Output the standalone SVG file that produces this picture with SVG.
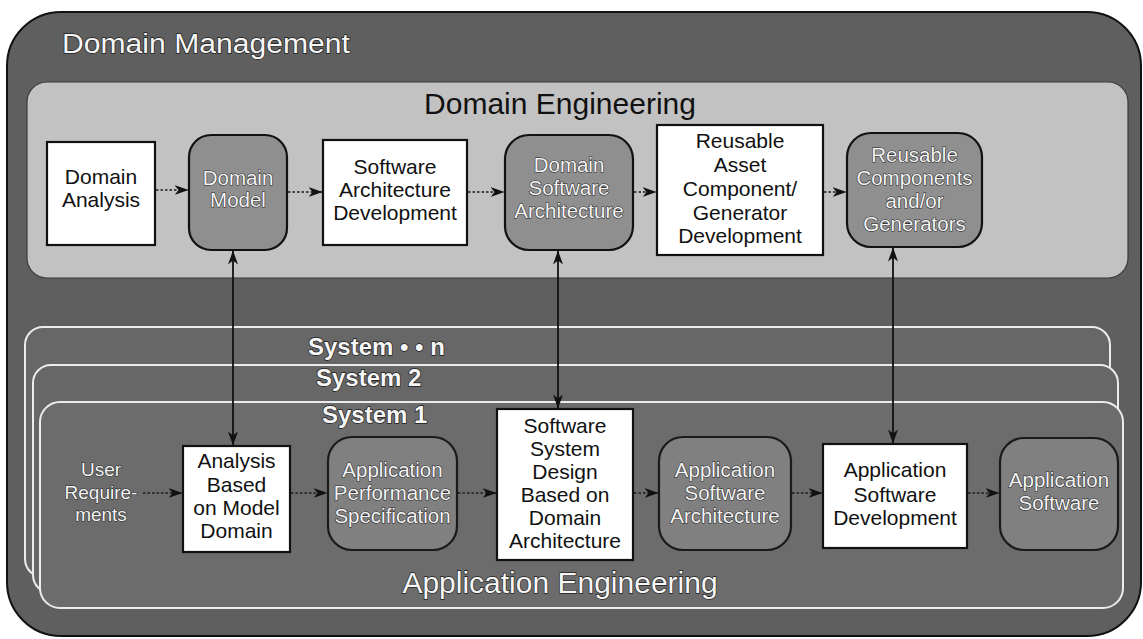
<svg xmlns="http://www.w3.org/2000/svg" width="1143" height="639" viewBox="0 0 1143 639">
  <defs>
    <marker id="arrow" markerUnits="userSpaceOnUse" viewBox="0 0 14 10" refX="13.5" refY="5" markerWidth="14" markerHeight="10" orient="auto-start-reverse">
      <path d="M0,0 L14,5 L0,10 L4,5 z" fill="#111"/>
    </marker>
    <style>
      .frame { fill: #5f5f5f; stroke: #111; stroke-width: 2; }
      .de-panel { fill: #c2c2c2; stroke: #3a3a3a; stroke-width: 1.2; }
      .sys { fill: #676767; stroke: #ececec; stroke-width: 2; }
      .box { fill: #ffffff; stroke: #111; stroke-width: 2.2; }
      .prod-de { fill: #8f8f8f; stroke: #111; stroke-width: 2.2; }
      .prod-ae { fill: #808080; stroke: #1a1a1a; stroke-width: 2.2; }
      text { font-family: "Liberation Sans", Arial, sans-serif; text-anchor: middle; }
      .dark { fill: #111; font-size: 21px; }
      .light { fill: #f4f4f4; stroke: #262626; stroke-width: 1.1; paint-order: stroke; font-size: 20.5px; }
      .title-light { fill: #f6f6f6; stroke: #1e1e1e; stroke-width: 1.3; paint-order: stroke; font-size: 30px; }
      .sys-label { fill: #f6f6f6; stroke: #1a1a1a; stroke-width: 1.4; paint-order: stroke; font-size: 24px; font-weight: bold; text-anchor: start; }
      .flow { fill: none; stroke: #1c1c1c; stroke-width: 1.6; stroke-dasharray: 2.5 2; }
      .link { fill: none; stroke: #111; stroke-width: 1.8; }
    </style>
  </defs>

  <!-- Domain Management frame -->
  <g id="domain-management">
    <rect class="frame" x="7" y="12" width="1134" height="624" rx="54" ry="54"/>
    <text class="title-light" x="62" y="53" style="text-anchor:start;font-size:27px" textLength="288" lengthAdjust="spacingAndGlyphs">Domain Management</text>
  </g>

  <!-- Domain Engineering panel -->
  <g id="domain-engineering">
    <rect class="de-panel" x="27" y="82" width="1101" height="196" rx="20" ry="20"/>
    <text class="dark" x="560" y="114" style="font-size:30px">Domain Engineering</text>
  </g>

  <!-- Application Engineering: stacked system panels -->
  <g id="system-n">
    <rect class="sys" x="25" y="327" width="1085" height="250" rx="18" ry="18"/>
    <text class="sys-label" x="308" y="355">System • • n</text>
  </g>
  <g id="system-2">
    <rect class="sys" x="33" y="365" width="1085" height="228" rx="18" ry="18"/>
    <text class="sys-label" x="316" y="386">System 2</text>
  </g>
  <g id="system-1">
    <rect class="sys" x="40" y="402" width="1083" height="206" rx="20" ry="20" style="fill:#6c6c6c"/>
    <text class="sys-label" x="322" y="423">System 1</text>
    <text class="title-light" x="560" y="593">Application Engineering</text>
  </g>

  <!-- Domain engineering activities and products -->
  <g id="domain-analysis">
    <rect class="box" x="47" y="142" width="108" height="103"/>
    <text class="dark" x="101" y="184">Domain</text>
    <text class="dark" x="101" y="207">Analysis</text>
  </g>
  <g id="domain-model">
    <rect class="prod-de" x="189" y="135" width="98" height="115" rx="22" ry="22"/>
    <text class="light" x="238" y="185">Domain</text>
    <text class="light" x="238" y="207">Model</text>
  </g>
  <g id="software-architecture-development">
    <rect class="box" x="323" y="140" width="144" height="105"/>
    <text class="dark" x="395" y="174">Software</text>
    <text class="dark" x="395" y="197">Architecture</text>
    <text class="dark" x="395" y="220">Development</text>
  </g>
  <g id="domain-software-architecture">
    <rect class="prod-de" x="505" y="135" width="128" height="115" rx="24" ry="24"/>
    <text class="light" x="569" y="172">Domain</text>
    <text class="light" x="569" y="195">Software</text>
    <text class="light" x="569" y="218">Architecture</text>
  </g>
  <g id="reusable-asset-development">
    <rect class="box" x="657" y="125" width="166" height="130"/>
    <text class="dark" x="740" y="148">Reusable</text>
    <text class="dark" x="740" y="172">Asset</text>
    <text class="dark" x="740" y="196">Component/</text>
    <text class="dark" x="740" y="220">Generator</text>
    <text class="dark" x="740" y="243">Development</text>
  </g>
  <g id="reusable-components">
    <rect class="prod-de" x="847" y="133" width="135" height="114" rx="24" ry="24"/>
    <text class="light" x="914.5" y="162">Reusable</text>
    <text class="light" x="914.5" y="185">Components</text>
    <text class="light" x="914.5" y="208">and/or</text>
    <text class="light" x="914.5" y="231">Generators</text>
  </g>

  <!-- Application engineering activities and products -->
  <g id="user-requirements">
    <text class="light" x="101" y="476" style="font-size:19px">User</text>
    <text class="light" x="101" y="499" style="font-size:19px">Require-</text>
    <text class="light" x="101" y="521" style="font-size:19px">ments</text>
  </g>
  <g id="analysis-based-on-model">
    <rect class="box" x="183" y="446" width="107" height="106"/>
    <text class="dark" x="236.5" y="468">Analysis</text>
    <text class="dark" x="236.5" y="492">Based</text>
    <text class="dark" x="236.5" y="515">on Model</text>
    <text class="dark" x="236.5" y="538">Domain</text>
  </g>
  <g id="application-performance-specification">
    <rect class="prod-ae" x="328" y="437" width="129" height="113" rx="24" ry="24"/>
    <text class="light" x="392.5" y="477">Application</text>
    <text class="light" x="392.5" y="500">Performance</text>
    <text class="light" x="392.5" y="523">Specification</text>
  </g>
  <g id="software-system-design">
    <rect class="box" x="497" y="409" width="136" height="151"/>
    <text class="dark" x="565" y="433">Software</text>
    <text class="dark" x="565" y="456">System</text>
    <text class="dark" x="565" y="479">Design</text>
    <text class="dark" x="565" y="502">Based on</text>
    <text class="dark" x="565" y="525">Domain</text>
    <text class="dark" x="565" y="548">Architecture</text>
  </g>
  <g id="application-software-architecture">
    <rect class="prod-ae" x="659" y="437" width="132" height="113" rx="24" ry="24"/>
    <text class="light" x="725" y="477">Application</text>
    <text class="light" x="725" y="500">Software</text>
    <text class="light" x="725" y="523">Architecture</text>
  </g>
  <g id="application-software-development">
    <rect class="box" x="823" y="444" width="144" height="104"/>
    <text class="dark" x="895" y="477">Application</text>
    <text class="dark" x="895" y="502">Software</text>
    <text class="dark" x="895" y="525">Development</text>
  </g>
  <g id="application-software">
    <rect class="prod-ae" x="1000" y="438" width="118" height="112" rx="24" ry="24"/>
    <text class="light" x="1059" y="487">Application</text>
    <text class="light" x="1059" y="510">Software</text>
  </g>

  <!-- Connectors -->
  <g id="connectors">
    <!-- domain engineering flow -->
    <line class="flow" x1="156" y1="190" x2="188" y2="190" marker-end="url(#arrow)"/>
    <line class="flow" x1="288" y1="192" x2="322" y2="192" marker-end="url(#arrow)"/>
    <line class="flow" x1="468" y1="192" x2="504" y2="192" marker-end="url(#arrow)"/>
    <line class="flow" x1="634" y1="192" x2="656" y2="192" marker-end="url(#arrow)"/>
    <line class="flow" x1="824" y1="192" x2="846" y2="192" marker-end="url(#arrow)"/>
    <!-- application engineering flow -->
    <line class="flow" x1="143" y1="493" x2="182" y2="493" marker-end="url(#arrow)"/>
    <line class="flow" x1="291" y1="493" x2="327" y2="493" marker-end="url(#arrow)"/>
    <line class="flow" x1="458" y1="493" x2="496" y2="493" marker-end="url(#arrow)"/>
    <line class="flow" x1="634" y1="493" x2="658" y2="493" marker-end="url(#arrow)"/>
    <line class="flow" x1="792" y1="493" x2="822" y2="493" marker-end="url(#arrow)"/>
    <line class="flow" x1="968" y1="493" x2="999" y2="493" marker-end="url(#arrow)"/>
    <!-- links between domain and application engineering -->
    <line class="link" x1="233" y1="251" x2="233" y2="445" marker-start="url(#arrow)" marker-end="url(#arrow)"/>
    <line class="link" x1="558" y1="251" x2="558" y2="408" marker-start="url(#arrow)" marker-end="url(#arrow)"/>
    <line class="link" x1="893" y1="248" x2="893" y2="443" marker-start="url(#arrow)" marker-end="url(#arrow)"/>
  </g>
</svg>
